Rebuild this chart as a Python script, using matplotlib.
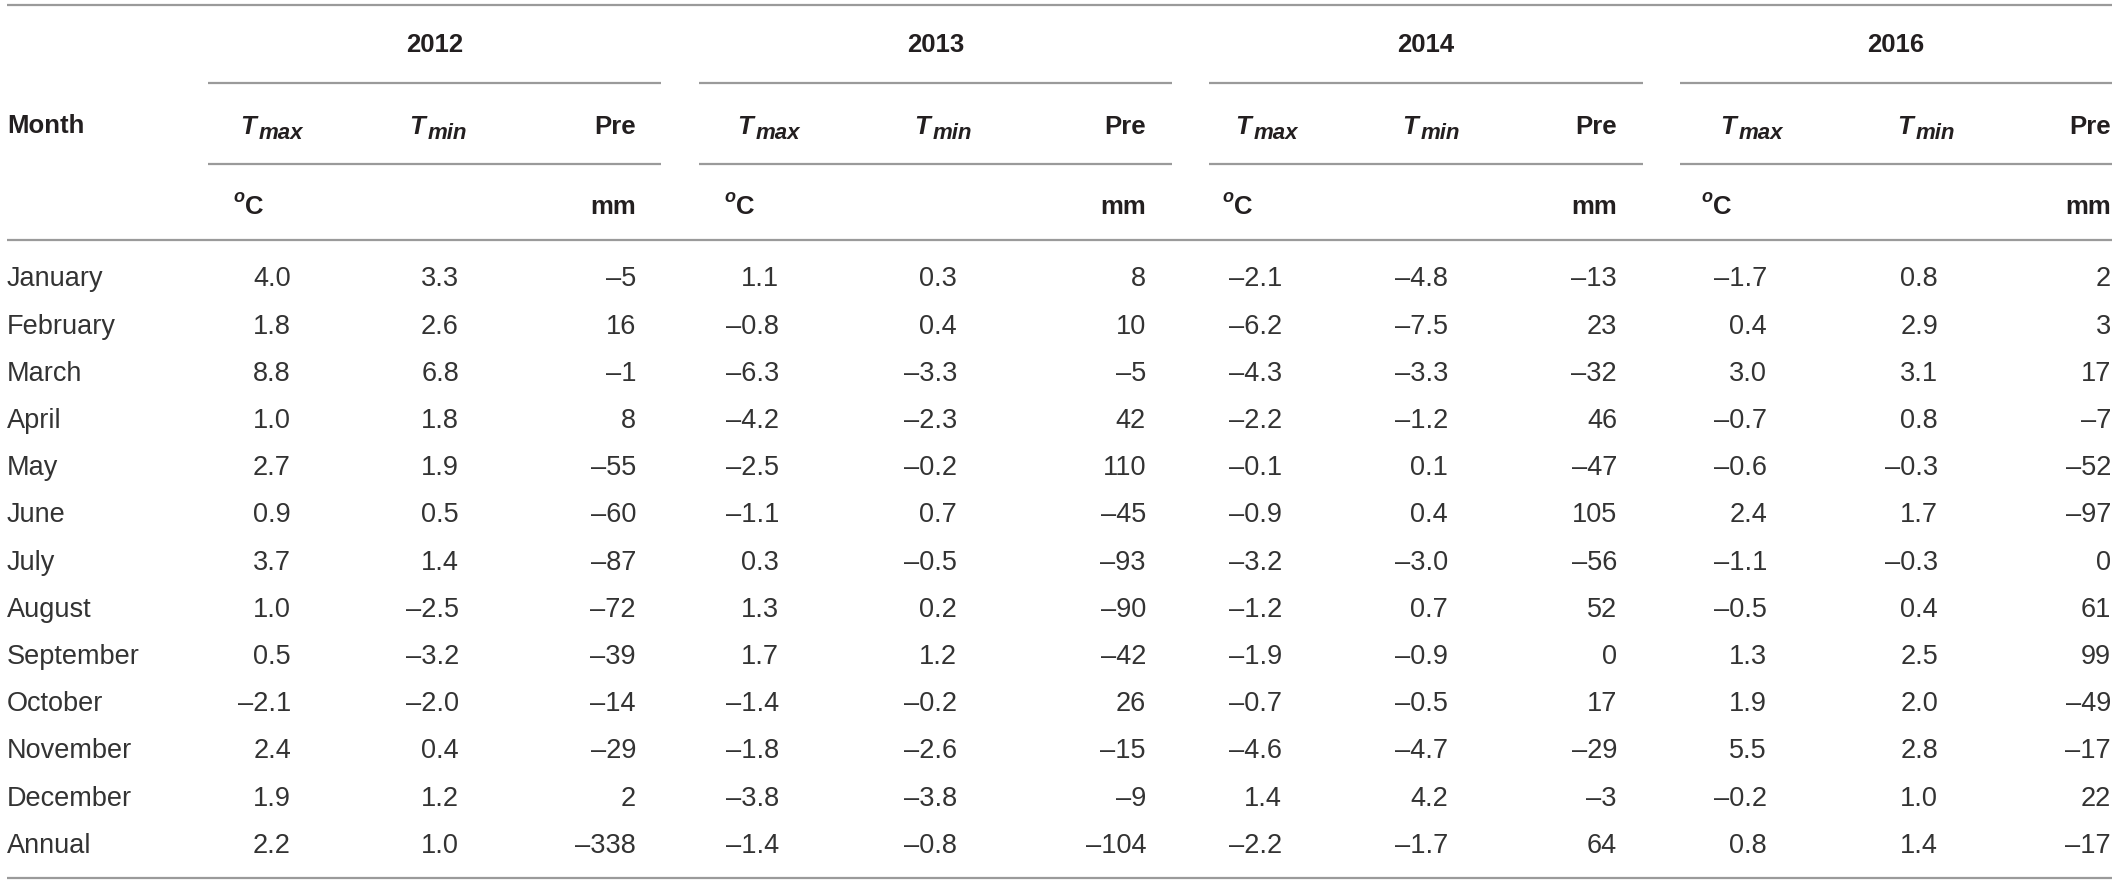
import matplotlib
matplotlib.use("Agg")
import matplotlib.pyplot as plt

# Data
months = ["January", "February", "March", "April", "May", "June", "July",
          "August", "September", "October", "November", "December", "Annual"]
years = ["2012", "2013", "2014", "2016"]

tmax_2012 = [4.0, 1.8, 8.8, 1.0, 2.7, 0.9, 3.7, 1.0, 0.5, -2.1, 2.4, 1.9, 2.2]
tmin_2012 = [3.3, 2.6, 6.8, 1.8, 1.9, 0.5, 1.4, -2.5, -3.2, -2.0, 0.4, 1.2, 1.0]
pre_2012 = [-5, 16, -1, 8, -55, -60, -87, -72, -39, -14, -29, 2, -338]

tmax_2013 = [1.1, -0.8, -6.3, -4.2, -2.5, -1.1, 0.3, 1.3, 1.7, -1.4, -1.8, -3.8, -1.4]
tmin_2013 = [0.3, 0.4, -3.3, -2.3, -0.2, 0.7, -0.5, 0.2, 1.2, -0.2, -2.6, -3.8, -0.8]
pre_2013 = [8, 10, -5, 42, 110, -45, -93, -90, -42, 26, -15, -9, -104]

tmax_2014 = [-2.1, -6.2, -4.3, -2.2, -0.1, -0.9, -3.2, -1.2, -1.9, -0.7, -4.6, 1.4, -2.2]
tmin_2014 = [-4.8, -7.5, -3.3, -1.2, 0.1, 0.4, -3.0, 0.7, -0.9, -0.5, -4.7, 4.2, -1.7]
pre_2014 = [-13, 23, -32, 46, -47, 105, -56, 52, 0, 17, -29, -3, 64]

tmax_2016 = [-1.7, 0.4, 3.0, -0.7, -0.6, 2.4, -1.1, -0.5, 1.3, 1.9, 5.5, -0.2, 0.8]
tmin_2016 = [0.8, 2.9, 3.1, 0.8, -0.3, 1.7, -0.3, 0.4, 2.5, 2.0, 2.8, 1.0, 1.4]
pre_2016 = [2, 3, 17, -7, -52, -97, 0, 61, 99, -49, -17, 22, -17]

tmax = [tmax_2012, tmax_2013, tmax_2014, tmax_2016]
tmin = [tmin_2012, tmin_2013, tmin_2014, tmin_2016]
pre = [pre_2012, pre_2013, pre_2014, pre_2016]

# Layout (pixel coordinates)
W, H = 2118, 885
group_x0 = [208, 699, 1209, 1680]
group_x1 = [661, 1172, 1643, 2112]
tmax_head = [240, 737, 1235, 1720]
tmin_head = [409, 914, 1402, 1897]
degc_left = [233, 724, 1222, 1701]
tmax_right = [291, 779, 1282, 1767]
tmin_right = [459, 957, 1448, 1938]
pre_right = [636, 1146, 1617, 2111]

y_top, y_group, y_sub, y_unit_line, y_bottom = 5, 83, 164, 240, 878
y_year, y_head, y_unit = 43, 125, 205
y_row0, row_step = 277, 47.2

head_col = "#231f20"
body_col = "#333333"
line_col = "#9a9a9a"
head_font = "Liberation Sans"
body_font = ["Liberation Sans", "DejaVu Sans"]

fig = plt.figure(figsize=(W / 100, H / 100), dpi=100)
ax = fig.add_axes([0, 0, 1, 1])
ax.set_xlim(0, W)
ax.set_ylim(H, 0)
ax.axis("off")


def hline(y, x0, x1, lw=1.6):
    ax.plot([x0, x1], [y, y], color=line_col, lw=lw, solid_capstyle="butt")


def fmt(v, dec):
    s = f"{abs(v):.{dec}f}"
    return ("\u2013" + s) if v < 0 else s


def head(x, y, s, ha="left", style="normal", size=18.5):
    return ax.text(x, y + 9, s, ha=ha, va="baseline", fontsize=size,
                   family=head_font, weight="bold", style=style, color=head_col)


# Rules
hline(y_top, 7, 2112)
hline(y_unit_line, 7, 2112)
hline(y_bottom, 7, 2112)
for x0, x1 in zip(group_x0, group_x1):
    hline(y_group, x0, x1)
    hline(y_sub, x0, x1)

fig.canvas.draw()
renderer = fig.canvas.get_renderer()
inv = ax.transData.inverted()

# Header
head(7, y_head - 1, "Month")
for i, yr in enumerate(years):
    head((group_x0[i] + group_x1[i]) / 2, y_year, yr, ha="center")
    for xh, sub in [(tmax_head[i], "max"), (tmin_head[i], "min")]:
        t = head(xh, y_head, "T", style="italic")
        bb = t.get_window_extent(renderer)
        xe = inv.transform((bb.x1, bb.y0))[0]
        ax.text(xe + 3, y_head + 14, sub, ha="left", va="baseline", fontsize=16,
                family=head_font, weight="bold", style="italic", color=head_col)
    head(pre_right[i], y_head, "Pre", ha="right")
    o = ax.text(degc_left[i], y_unit - 3, "o", ha="left", va="baseline", fontsize=13,
                family=head_font, weight="bold", style="italic", color=head_col)
    bb = o.get_window_extent(renderer)
    xe = inv.transform((bb.x1, bb.y0))[0]
    head(xe + 1, y_unit, "C")
    head(pre_right[i], y_unit, "mm", ha="right")

# Body
for r, m in enumerate(months):
    yb = y_row0 + r * row_step + 9.5
    ax.text(7, yb, m, ha="left", va="baseline", fontsize=19.5,
            family=body_font, color=body_col)
    for i in range(len(years)):
        for xr, val, dec in [(tmax_right[i], tmax[i][r], 1),
                             (tmin_right[i], tmin[i][r], 1),
                             (pre_right[i], pre[i][r], 0)]:
            ax.text(xr, yb, fmt(val, dec), ha="right", va="baseline", fontsize=19.5,
                    family=body_font, color=body_col)

fig.savefig("out.png", dpi=100, facecolor="white")
